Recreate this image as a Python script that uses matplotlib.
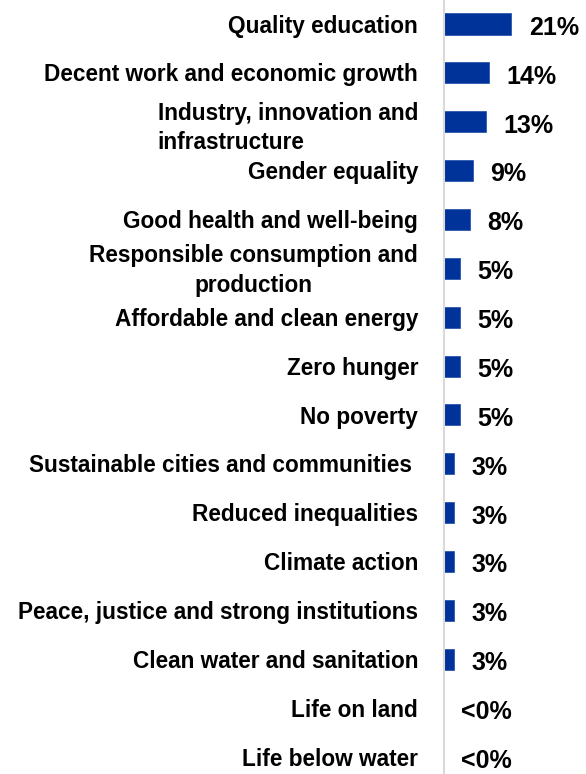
import matplotlib
matplotlib.use('Agg')
import matplotlib.pyplot as plt

# Share of responses by Sustainable Development Goal
goals = [
    'Quality education',
    'Decent work and economic growth',
    'Industry, innovation and\ninfrastructure',
    'Gender equality',
    'Good health and well-being',
    'Responsible consumption and\nproduction',
    'Affordable and clean energy',
    'Zero hunger',
    'No poverty',
    'Sustainable cities and communities ',
    'Reduced inequalities',
    'Climate action',
    'Peace, justice and strong institutions',
    'Clean water and sanitation',
    'Life on land',
    'Life below water',
]
shares = [21, 14, 13, 9, 8, 5, 5, 5, 5, 3, 3, 3, 3, 3, 0, 0]
share_labels = ['21%', '14%', '13%', '9%', '8%', '5%', '5%', '5%', '5%',
                '3%', '3%', '3%', '3%', '3%', '<0%', '<0%']

plt.rcParams['font.family'] = ['Liberation Sans', 'DejaVu Sans']
plt.rcParams['font.weight'] = 'bold'

W, H = 586, 774
fig = plt.figure(figsize=(W / 100, H / 100), dpi=100)
x0 = 444
ax = fig.add_axes([x0 / W, 0, (W - x0) / W, 1])

pos = list(range(len(goals)))
ax.barh(pos, shares, height=0.43, color='#003399', edgecolor='#1a4aa8', linewidth=0.5)

row = 48.87
ax.set_ylim(15 + (H - 757) / row, -24 / row)
ax.set_xlim(0, (W - x0) / 3.2)

# value labels just right of each bar
for y, v, lab in zip(pos, shares, share_labels):
    ax.annotate(lab, xy=(v, y), xytext=(12.6, -7.8), textcoords='offset points',
                va='baseline', ha='left', fontsize=18, fontweight='bold', color='black')

# category labels, right-aligned left of the axis line
for y, g in zip(pos, goals):
    two_lines = '\n' in g
    align = 'left' if g.startswith('Industry') else 'center'
    dy = -4.5 if g.startswith('Industry') else -1.5
    ax.annotate(g, xy=(0, y), xycoords=('axes fraction', 'data'),
                xytext=(-18.7, dy), textcoords='offset points',
                ha='right', va='center', multialignment=align if two_lines else 'right',
                linespacing=1.35, fontsize=16.3, fontweight='bold', color='black')

ax.set_yticks([])
ax.set_xticks([])
for s in ['top', 'right', 'bottom']:
    ax.spines[s].set_visible(False)
ax.spines['left'].set_color('#d9d9d9')
ax.spines['left'].set_linewidth(1.5)

fig.savefig('out.png', dpi=100)
